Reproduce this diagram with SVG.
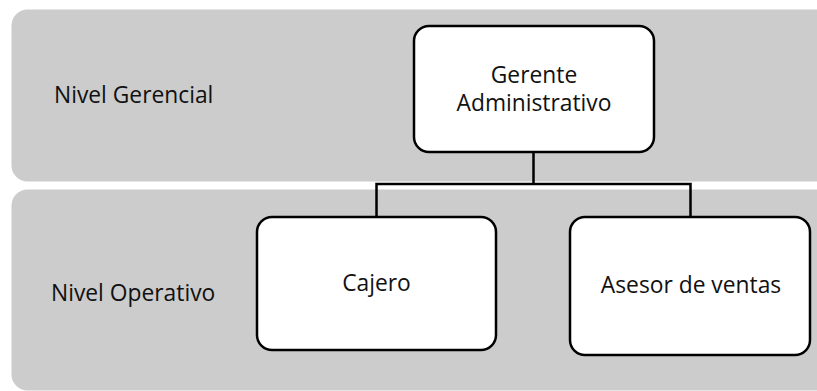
<svg xmlns="http://www.w3.org/2000/svg" width="817" height="391" viewBox="0 0 817 391">
<style>
.band{fill:#cccccc;}
.box{fill:#ffffff;stroke:#000000;stroke-width:2.5;}
.lbl{font-family:"Open Sans",Lato,"Liberation Sans",sans-serif;font-size:22.8px;fill:#111111;font-variant-ligatures:none;}
.c{text-anchor:middle;}
.conn{fill:none;stroke:#000000;stroke-width:2.5;}
</style>
<rect width="817" height="391" fill="#ffffff"/>
<g id="band-gerencial">
<rect class="band" x="11.5" y="9.5" width="820" height="172" rx="16"/>
<text class="lbl" x="54" y="103">Nivel Gerencial</text>
</g>
<g id="band-operativo">
<rect class="band" x="11.5" y="189.5" width="820" height="201" rx="16"/>
<text class="lbl" x="51" y="301">Nivel Operativo</text>
</g>
<g id="connectors">
<path class="conn" d="M533.5 152 V184 M376.5 217 V184 H690.5 V217"/>
</g>
<g id="gerente">
<rect class="box" x="414" y="26" width="240" height="126" rx="15"/>
<text class="lbl c" x="534" y="83">Gerente</text>
<text class="lbl c" x="534" y="111">Administrativo</text>
</g>
<g id="cajero">
<rect class="box" x="257" y="217" width="239" height="133" rx="15"/>
<text class="lbl c" x="376.5" y="291">Cajero</text>
</g>
<g id="asesor">
<rect class="box" x="570" y="217" width="240" height="138" rx="15"/>
<text class="lbl c" x="691" y="293">Asesor de ventas</text>
</g>
</svg>
